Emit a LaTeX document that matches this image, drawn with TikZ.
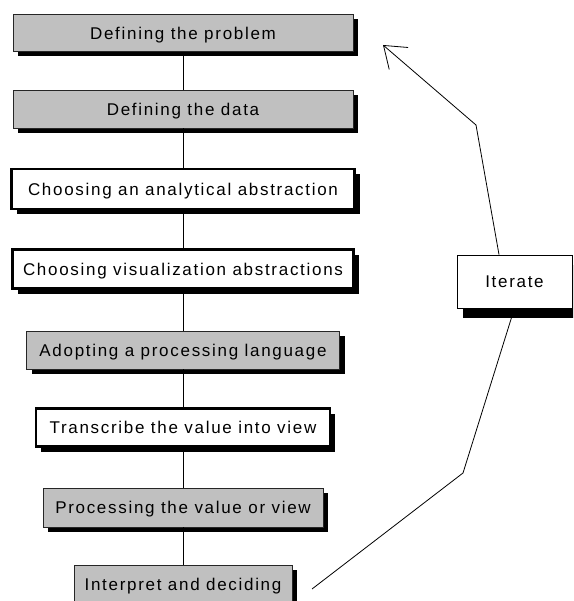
\documentclass[tikz,border=0pt]{standalone}
\usepackage{fontspec}
\setmainfont{Liberation Sans}[LetterSpace=10]
\usetikzlibrary{arrows.meta,calc,shadows}
\definecolor{boxgray}{RGB}{192,192,192}
\begin{document}
\begin{tikzpicture}[x=1pt,y=1pt,
  every node/.style={font=\fontsize{17}{20}\selectfont, inner sep=0pt,
    text height=12.2pt, text depth=0pt},
  graystep/.style={draw=black!85, line width=0.8pt, fill=boxgray,
    drop shadow={shadow xshift=5pt, shadow yshift=-5pt, fill=black, opacity=1}},
  whitestep/.style={draw=black, line width=2.8pt, fill=white,
    drop shadow={shadow xshift=5pt, shadow yshift=-5pt, fill=black, opacity=1}},
  iterbox/.style={draw=black, line width=0.8pt, fill=white,
    drop shadow={shadow xshift=6pt, shadow yshift=-10pt, fill=black, opacity=1}},
  link/.style={draw=black, line width=0.8pt}]

\useasboundingbox (0,0) rectangle (573,-601);
\clip (0,0) rectangle (573,-601);

% loop-back path from the last step through the Iterate box to the top
\coordinate (lowTip) at (312,-589);
\coordinate (lowBend) at (463,-473);
\coordinate (upBend) at (476,-125);
\coordinate (arrowTip) at (383,-45);

% process steps
\node[graystep, minimum width=340pt, minimum height=37pt] (b1) at (183,-33) {Defining the problem};
\node[graystep, minimum width=340pt, minimum height=38pt] (b2) at (183,-109) {Defining the data};
\node[whitestep, minimum width=343pt, minimum height=40pt] (b3) at (183,-189) {Choosing an analytical abstraction};
\node[whitestep, minimum width=341pt, minimum height=39pt] (b4) at (183,-269) {Choosing visualization abstractions};
\node[graystep, minimum width=313pt, minimum height=38pt] (b5) at (183,-350) {Adopting a processing language};
\node[whitestep, minimum width=294pt, minimum height=38pt] (b6) at (183,-427.5) {Transcribe the value into view};
\node[graystep, minimum width=280pt, minimum height=39pt] (b7) at (183,-507.5) {Processing the value or view};
\node[graystep, minimum width=218pt, minimum height=38pt] (b8) at (183,-584) {Interpret and deciding};

% connectors between steps
\foreach \a/\b in {b1/b2,b2/b3,b3/b4,b4/b5,b5/b6,b6/b7,b7/b8}
  \draw[link] (\a) -- (\b);

% Iterate loop
\draw[link] (lowTip) -- (lowBend) -- ($(514.5,-308)$);
\node[iterbox, minimum width=115pt, minimum height=53pt] (it) at (514.5,-281.5) {Iterate};
\coordinate (itTop) at ($(it.north)+(-15.5,0)$);
\draw[link, -{Straight Barb[length=20pt, width=29pt, line width=0.8pt]}]
  (itTop) -- (upBend) -- (arrowTip);

\end{tikzpicture}
\end{document}
